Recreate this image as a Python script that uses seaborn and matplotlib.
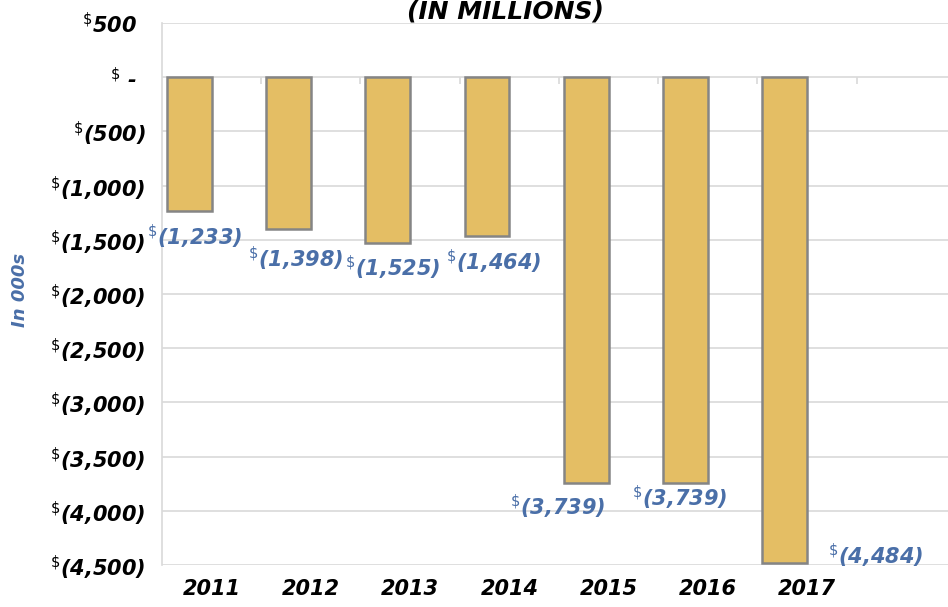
import matplotlib
matplotlib.use("Agg")
import matplotlib.pyplot as plt
import numpy as np
import pandas as pd
import seaborn as sns

years = ["2011", "2012", "2013", "2014", "2015", "2016", "2017"]
net_values = [-1233, -1398, -1525, -1464, -3739, -3739, -4484]
y_ticks = [500, 0, -500, -1000, -1500, -2000, -2500, -3000, -3500, -4000, -4500]

# label nudges in pixels (dx, dy) from the bar end
label_offsets = [(-17, -26), (-15, -30), (-17, -25), (-16, -26),
                 (-51, -24), (-28, -15), (69, 7)]

BAR = "#E4BE64"
EDGE = "#858585"
BLUE = "#4A6FA8"
GRID = "#D9D9D9"


def money(v):
    if v == 0:
        return r"$^{\$}$ -  "
    if v < 0:
        return r"$^{\$}$" + f"({abs(v):,})"
    return r"$^{\$}$" + f"{v:,}  "


sns.set_style("white")
plt.rcParams["font.family"] = ["DejaVu Sans"]

df = pd.DataFrame({
    "year": years * 2,
    "value": net_values + [np.nan] * len(years),
    "series": ["net"] * len(years) + ["blank"] * len(years),
})

fig = plt.figure(figsize=(9.48, 6.07), dpi=100)
ax = fig.add_axes([162 / 948, 1 - 565 / 607, 1 - 162 / 948, (565 - 23) / 607])

sns.barplot(data=df, x="year", y="value", hue="series", hue_order=["net", "blank"],
            palette=[BAR, BAR], saturation=1, width=0.9, dodge=True, edgecolor=EDGE,
            linewidth=1.8, legend=False, ax=ax, zorder=3)

ax.set_ylim(-4500, 500)
ax.set_xlim(-0.5, 7.42)
ax.set_yticks(y_ticks)
ax.set_yticklabels([money(v) for v in y_ticks])
ax.grid(axis="y", color=GRID, linewidth=1.2, zorder=0)
ax.tick_params(axis="y", length=0, pad=12, labelsize=15, labelcolor="black")
ax.tick_params(axis="x", length=0, pad=10, labelsize=15, labelcolor="black")
for lab in ax.get_yticklabels() + ax.get_xticklabels():
    lab.set_fontweight("bold")
    lab.set_fontstyle("italic")
ax.set_xlabel("")
ax.set_ylabel("")
for side in ["top", "right", "bottom"]:
    ax.spines[side].set_visible(False)
ax.spines["left"].set_color(GRID)
ax.spines["left"].set_linewidth(1.2)

# small category ticks hanging below the zero line
ax.vlines(np.arange(0.5, len(years) + 1, 1.0), -60, 0, color=GRID, linewidth=1.2, zorder=1)

bars = [p for p in ax.patches if p.get_height() == p.get_height() and p.get_height() != 0]
for p, v, (dx, dy) in zip(bars, net_values, label_offsets):
    ax.annotate(money(v), xy=(p.get_x() + p.get_width() / 2 + 0.225, v),
                xytext=(dx, dy), textcoords="offset pixels",
                ha="center", va="center", color=BLUE, fontsize=15,
                fontweight="bold", fontstyle="italic", zorder=5)

fig.text(20 / 948, 1 - 290 / 607, "In 000s", rotation=90, color=BLUE,
         fontsize=13, fontweight="bold", fontstyle="italic", ha="center", va="center")
fig.text(505 / 948, 1 - 24 / 607, "(IN MILLIONS)", fontsize=18, fontweight="bold",
         fontstyle="italic", ha="center", va="bottom", color="black")

fig.savefig("out.png", dpi=100)
